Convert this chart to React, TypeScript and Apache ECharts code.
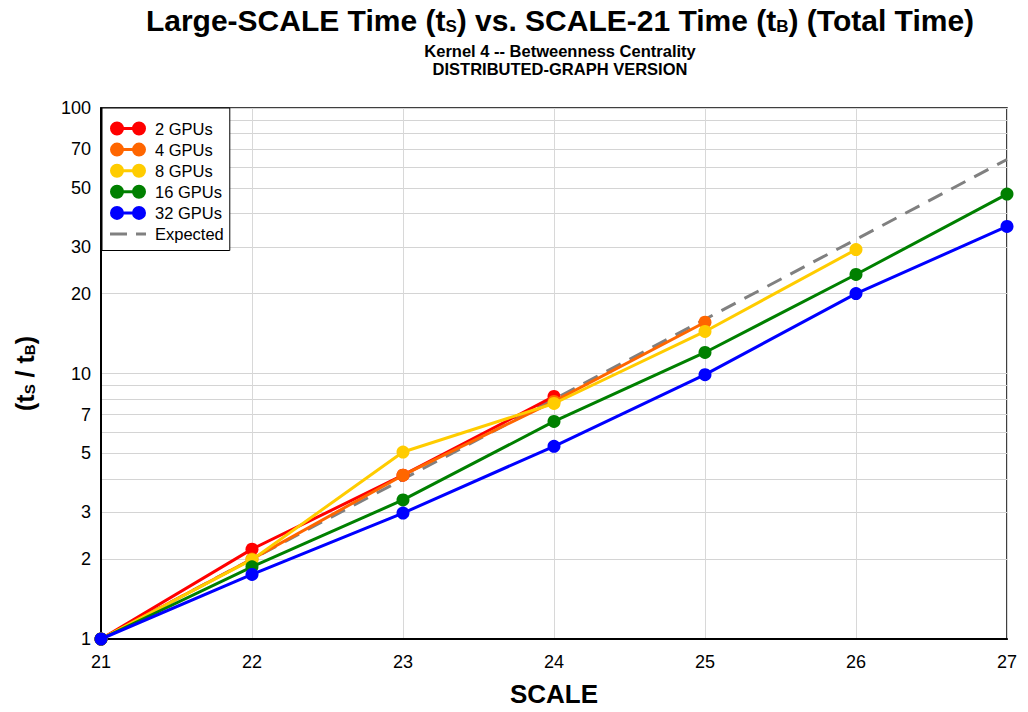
import React, { useEffect, useRef } from 'react';
import * as echarts from 'echarts';

const scales = [21, 22, 23, 24, 25, 26, 27];
const seriesNames = ['2 GPUs', '4 GPUs', '8 GPUs', '16 GPUs', '32 GPUs'];
const gpu2 = [1, 2.18, 4.14, 8.2];
const gpu4 = [1, 2.0, 4.14, 7.85, 15.6];
const gpu8 = [1, 1.99, 5.06, 7.71, 14.4, 29.3];
const gpu16 = [1, 1.87, 3.34, 6.6, 12.0, 23.6, 47.4];
const gpu32 = [1, 1.75, 2.98, 5.32, 9.9, 20.0, 35.8];
const expected = [1, 2, 4, 8, 16, 32, 64];
const yLabelValues = [1, 2, 3, 5, 7, 10, 20, 30, 50, 70, 100];
const yGridValues = [1, 2, 3, 4, 5, 6, 7, 8, 9, 10, 20, 30, 40, 50, 60, 70, 80, 90, 100];
const colors = ['#ff0000', '#ff6600', '#ffcc00', '#008000', '#0000ff'];

const FONT = 'Arial, "Liberation Sans", Helvetica, sans-serif';

const CORNERS = 'M0,0 L0.01,0 L0.01,0.01 Z M40,14 L39.99,14 L39.99,13.99 Z ';
const DOTS_ICON =
  'path://' + CORNERS +
  'M0,7 A7,7 0 1,1 14,7 A7,7 0 1,1 0,7 Z M22,7 A7,7 0 1,1 36,7 A7,7 0 1,1 22,7 Z M7,5.5 L29,5.5 L29,8.5 L7,8.5 Z';
const DASH_ICON =
  'path://' + CORNERS + 'M0,5.5 L17,5.5 L17,8.5 L0,8.5 Z M26,5.5 L36,5.5 L36,8.5 L26,8.5 Z';

function pairs(vals: number[]) {
  return vals.map((v, i) => [scales[i], v]);
}

export default function App() {
  const ref = useRef<HTMLDivElement>(null);
  useEffect(() => {
    if (!ref.current) return;
    const chart = echarts.init(ref.current, undefined, { renderer: 'svg' });
    const all = [gpu2, gpu4, gpu8, gpu16, gpu32];
    const series: any[] = all.map((vals, i) => ({
      name: seriesNames[i],
      type: 'line',
      data: pairs(vals),
      symbol: 'circle',
      symbolSize: 13,
      color: colors[i],
      lineStyle: { width: 3, color: colors[i] },
      itemStyle: { color: colors[i], borderWidth: 0 },
      z: 3 + i,
    }));
    series.push({
      name: 'Expected',
      type: 'line',
      data: pairs(expected),
      symbol: 'none',
      color: '#808080',
      lineStyle: { width: 3, color: '#808080', type: [16, 10] },
      z: 2,
    });
    const option: any = {
      animation: false,
      backgroundColor: '#ffffff',
      textStyle: { fontFamily: FONT },
      title: [
        {
          text: 'Large-SCALE Time (t{sub|S}) vs. SCALE-21 Time (t{sub|B}) (Total Time)',
          left: 555,
          top: 0,
          textAlign: 'center',
          textStyle: {
            fontFamily: FONT,
            fontSize: 30,
            fontWeight: 'bold',
            color: '#000',
            rich: {
              sub: { fontFamily: FONT, fontSize: 17, fontWeight: 'bold', color: '#000', verticalAlign: 'bottom' },
            },
          },
        },
        {
          text: 'Kernel 4 -- Betweenness Centrality',
          left: 555,
          top: 37,
          textAlign: 'center',
          textStyle: { fontFamily: FONT, fontSize: 16.5, fontWeight: 'bold', color: '#000' },
        },
        {
          text: 'DISTRIBUTED-GRAPH VERSION',
          left: 555,
          top: 55,
          textAlign: 'center',
          textStyle: { fontFamily: FONT, fontSize: 16.5, fontWeight: 'bold', color: '#000' },
        },
      ],
      grid: {
        left: 101,
        right: 21,
        top: 108,
        bottom: 72,
        show: true,
        borderColor: '#000',
        borderWidth: 1.5,
        backgroundColor: 'transparent',
      },
      legend: {
        orient: 'vertical',
        left: 102,
        top: 108,
        padding: [12, 6, 8, 8],
        itemGap: 4.1,
        itemWidth: 40,
        itemHeight: 14,
        borderColor: '#000',
        borderWidth: 1,
        borderRadius: 0,
        backgroundColor: '#ffffff',
        textStyle: { fontFamily: FONT, fontSize: 16.5, color: '#000' },
        itemStyle: { borderWidth: 0 },
        data: [
          ...seriesNames.map((n) => ({ name: n, icon: DOTS_ICON })),
          { name: 'Expected', icon: DASH_ICON },
        ],
      },
      xAxis: {
        type: 'value',
        min: 21,
        max: 27,
        interval: 1,
        name: 'SCALE',
        nameLocation: 'middle',
        nameGap: 42,
        nameTextStyle: { fontFamily: FONT, fontSize: 26, fontWeight: 'bold', color: '#000' },
        axisLine: { show: true, lineStyle: { color: '#000', width: 2 } },
        axisTick: { show: false },
        axisLabel: { fontFamily: FONT, fontSize: 18, color: '#000', margin: 14 },
        splitLine: { show: true, lineStyle: { color: '#d8d8d8', width: 1 } },
      },
      yAxis: {
        type: 'log',
        logBase: 10,
        min: 1,
        max: 100,
        name: '(t{s|S} / t{s|B})',
        nameLocation: 'middle',
        nameGap: 64,
        nameRotate: 90,
        nameTextStyle: {
          fontFamily: FONT,
          fontSize: 25,
          fontWeight: 'bold',
          color: '#000',
          rich: { s: { fontFamily: FONT, fontSize: 15, fontWeight: 'bold', color: '#000', verticalAlign: 'bottom' } },
        },
        axisLine: { show: true, lineStyle: { color: '#000', width: 2 } },
        axisTick: { show: false, customValues: yGridValues },
        axisLabel: { fontFamily: FONT, fontSize: 18, color: '#000', margin: 10, customValues: yLabelValues },
        splitLine: { show: true, lineStyle: { color: '#d4d4d4', width: 1 } },
      },
      series,
    };
    chart.setOption(option);
    return () => chart.dispose();
  }, []);
  return <div ref={ref} style={{ position: 'fixed', left: 0, top: 0, width: 1028, height: 712 }} />;
}
